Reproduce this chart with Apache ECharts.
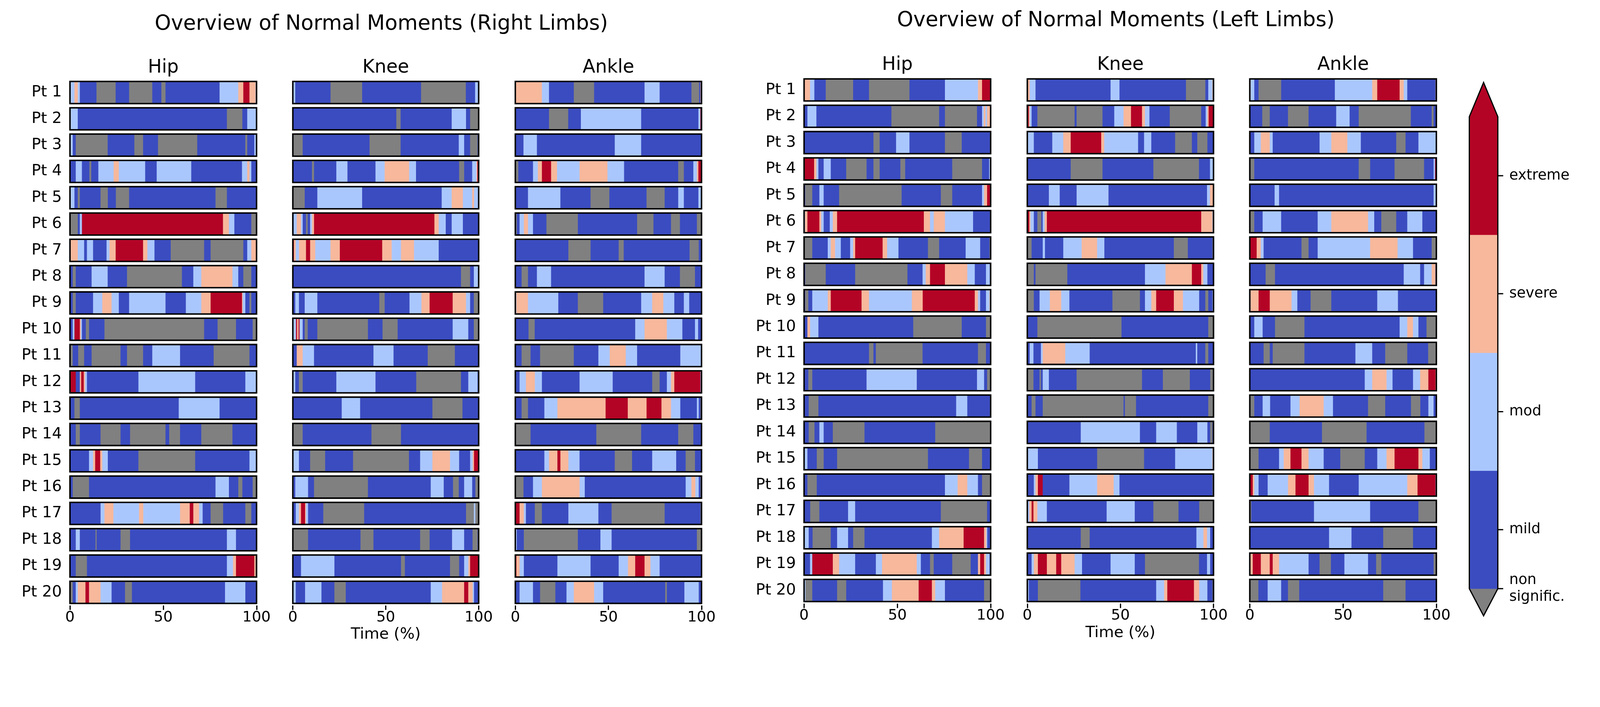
<!DOCTYPE html>
<html>
<head>
<meta charset="utf-8">
<script src="https://cdn.jsdelivr.net/npm/echarts@6/dist/echarts.min.js"></script>
<style>html,body{margin:0;padding:0;background:#fff;overflow:hidden;}#chart{width:100vw;height:100vh;}</style>
</head>
<body>
<div id="chart"></div>
<script>
// ---------------- DATA ----------------
// Category codes: 0 = non signific., 1 = mild, 2 = mod, 3 = severe, 4 = extreme
const catLabels = ['non\nsignific.', 'mild', 'mod', 'severe', 'extreme'];
const patients = ['Pt 1','Pt 2','Pt 3','Pt 4','Pt 5','Pt 6','Pt 7','Pt 8','Pt 9','Pt 10',
  'Pt 11','Pt 12','Pt 13','Pt 14','Pt 15','Pt 16','Pt 17','Pt 18','Pt 19','Pt 20'];
const jointNames = ['Hip', 'Knee', 'Ankle'];
const groupTitles = ['Overview of Normal Moments (Right Limbs)', 'Overview of Normal Moments (Left Limbs)'];
const xAxisName = 'Time (%)';
// each row: [category, end %, category, end %, ...] (segments start where the previous ends)
const rightHip = [
 [1,0.5, 2,2.5, 3,4.3, 2,5.4, 1,14.3, 0,24.6, 1,31.8, 0,44.2, 1,49.1, 0,51.3, 1,80.3, 2,90.3, 3,93, 4,96.3, 3,99.6, 2,100],
 [2,4.3, 1,84.2, 0,92.5, 1,95.1, 2,100],
 [2,1.6, 1,3.2, 0,20.3, 1,34.6, 0,39.3, 1,47.3, 0,68.3, 1,94.1, 0,95.1, 1,98.9, 2,100],
 [1,3.2, 2,6.5, 1,10.5, 0,11.5, 1,15.3, 2,23.5, 3,26.3, 2,40.4, 1,46.6, 2,65.1, 1,92.3, 2,95.1, 3,96.3, 2,97.3, 1,100],
 [2,2.5, 1,4.3, 0,5.4, 1,16.5, 0,20.4, 1,24.7, 0,31.8, 1,78.1, 0,84.2, 1,100],
 [0,4.3, 1,5.4, 2,6.5, 4,82.1, 3,85.3, 2,88.2, 1,97.3, 0,100],
 [3,4.3, 2,7.7, 1,9.2, 2,12.5, 1,19.7, 2,21.3, 3,24.6, 4,39.3, 3,41.6, 2,45.4, 1,54.1, 0,72, 1,75.5, 0,93, 1,95.1, 2,97.3, 3,100],
 [1,1.6, 0,3.2, 1,11.7, 2,20.3, 1,30.7, 0,60.1, 1,66.2, 2,70.5, 3,87.2, 2,90.3, 1,93, 0,97.3, 1,100],
 [1,1.6, 0,3.2, 1,12.5, 2,17.4, 3,22.4, 2,26.3, 1,31.8, 2,51.3, 1,62.2, 2,70.5, 3,75.5, 4,92.3, 3,92.7, 2,94.1, 1,96.3, 0,97.3, 1,100],
 [1,1.6, 2,2.5, 4,5.4, 3,5.9, 2,6.5, 1,8.6, 0,10.3, 1,18.6, 0,72, 1,79.2, 0,89.1, 1,98, 0,100],
 [0,1.6, 1,4.5, 0,7.7, 1,11.7, 0,27.2, 1,30.7, 0,39.3, 1,44.2, 2,59.1, 1,77.1, 0,96.3, 1,100],
 [3,0.4, 4,3.2, 1,5.4, 3,6.1, 4,7.5, 3,8.2, 2,9.2, 1,36.8, 2,67.2, 1,94.1, 2,100],
 [1,2.5, 0,5.4, 1,58.4, 2,80.3, 1,100],
 [1,3.2, 0,5.4, 1,16.5, 0,27.2, 1,32.3, 0,51.3, 1,53.3, 0,59.1, 1,70.5, 0,87.2, 1,100],
 [1,10.3, 2,12.5, 3,13.6, 4,16.3, 3,17.4, 2,20.4, 1,36.8, 0,67.2, 1,96.3, 2,100],
 [1,1.6, 0,10.3, 1,78.1, 2,85.3, 1,90.3, 0,92.5, 1,98, 0,100],
 [0,0.5, 1,16.5, 2,18.6, 3,23.4, 2,37.1, 3,39.4, 2,59.1, 3,64.3, 4,66.2, 3,69.3, 2,71.2, 1,75.5, 0,82.2, 1,94.1, 0,97.3, 1,100],
 [1,3.2, 2,5.4, 1,13.8, 0,14.4, 1,27.2, 0,32.3, 1,84.2, 2,89.1, 1,100],
 [1,3.2, 0,9.2, 1,84.2, 2,87.5, 3,89.1, 4,98.9, 3,99.6, 0,100],
 [1,0.5, 0,1.6, 1,3.2, 2,4.3, 3,8.4, 4,10.3, 3,16.5, 2,22.4, 1,29.6, 0,33.3, 1,83.2, 2,94.1, 1,100]
];
const rightKnee = [
 [2,1.4, 1,20.4, 0,37.4, 1,69.1, 0,93.2, 1,98.2, 2,100],
 [1,55.8, 0,58.1, 1,85.6, 2,93.3, 1,95.5, 0,100],
 [0,5.4, 1,41.4, 0,58.1, 1,89.4, 2,92.3, 1,95.5, 0,99.5, 1,100],
 [1,10.4, 0,11.5, 1,23.5, 2,29.5, 1,44.6, 2,49.5, 3,62.7, 2,66.4, 1,89.6, 0,92.3, 1,96.6, 2,98.9, 3,99.4, 4,100],
 [0,6.5, 1,13.3, 2,37.4, 1,80.2, 2,85.6, 3,91.6, 2,96.6, 3,97.6, 2,100],
 [1,0.5, 2,2.2, 3,4.5, 2,5.4, 1,7.2, 0,8.1, 1,9.4, 2,10.4, 3,11.5, 4,76.3, 3,78.6, 2,82.4, 1,85.6, 2,91.6, 1,100],
 [4,0.7, 3,1.7, 2,3.4, 3,7.2, 4,9.4, 3,12.2, 2,20.4, 3,25.4, 4,48.2, 3,53.3, 2,58.3, 3,65.3, 2,78.6, 1,100],
 [1,90.6, 0,95.5, 1,97.5, 2,100],
 [1,1.4, 2,3.4, 1,6.5, 2,13.3, 1,46.6, 0,49.5, 1,62.9, 2,69.3, 3,73.7, 4,86.1, 3,93.3, 2,95.5, 1,97.5, 0,100],
 [2,1.8, 4,2.4, 3,3.2, 4,3.7, 2,5.4, 1,6.5, 0,8.1, 1,13.3, 0,40.5, 1,48.4, 0,56.5, 1,86.1, 2,94.5, 1,97.5, 0,100],
 [1,2.2, 3,5.4, 2,11.5, 1,43.5, 2,54.3, 1,72.7, 0,87.3, 1,100],
 [2,1.4, 1,3.4, 0,5.4, 1,23.5, 2,44.6, 1,66.5, 0,90.6, 1,94.5, 2,99.5, 1,100],
 [1,26.4, 2,36.3, 1,75.2, 0,91.4, 1,100],
 [0,5.4, 1,42.4, 0,58.3, 1,100],
 [2,3.4, 1,9.4, 0,17.5, 1,32.5, 0,62.6, 1,68.6, 2,75.2, 3,84.7, 2,89.6, 1,95.5, 2,96.9, 3,97.6, 4,100],
 [2,0.5, 1,1.4, 2,8.3, 1,11.5, 0,40.5, 1,74.3, 2,81.3, 1,86.3, 0,89.4, 1,92.3, 2,96.6, 1,98.3, 0,100],
 [1,1.7, 2,3.4, 3,4.5, 4,6.7, 3,7.2, 2,8.3, 1,16.5, 0,38.5, 1,93.3, 0,97.5, 2,98.3, 0,100],
 [0,8.3, 1,36.5, 0,43.5, 1,68.6, 0,73.7, 1,85.8, 2,92.3, 1,96.8, 0,99.5, 1,100],
 [1,4.5, 2,22.5, 1,58.3, 0,60.4, 1,84.7, 0,89.6, 1,92.3, 2,94.6, 3,95.5, 4,100],
 [2,1.7, 1,6.7, 2,15.5, 1,22.5, 0,28.6, 1,74.3, 2,80.4, 3,92.3, 4,94.5, 3,96.9, 2,97.6, 1,100]
];
const rightAnkle = [
 [3,14.4, 2,18.2, 1,31.5, 0,42.4, 1,69.5, 2,77.6, 1,94.7, 0,98.8, 1,99.5, 3,100],
 [1,18.2, 0,28.5, 1,35.3, 2,67.7, 1,98.4, 2,99.5, 4,100],
 [1,4.5, 2,11.7, 1,53.5, 2,67.7, 1,100],
 [0,1.7, 1,9.6, 2,12.2, 3,14.4, 4,19.3, 3,22.5, 2,34.6, 3,49.6, 2,58.5, 1,87.6, 0,90.6, 1,95.7, 2,97.6, 3,98.4, 4,100],
 [1,6.9, 2,24.3, 1,40.5, 0,50.6, 1,70.6, 0,80.3, 1,87.6, 2,90.6, 1,98.4, 2,100],
 [0,0.9, 1,2.4, 2,4.7, 3,6.9, 2,9.6, 1,16.8, 0,33.7, 1,65.5, 0,74.3, 1,83.7, 0,88.5, 1,97.6, 0,100],
 [1,28.6, 0,40.5, 1,55.6, 0,58.3, 1,93.7, 0,98.6, 1,100],
 [1,3.5, 0,6.9, 1,11.7, 2,19.3, 1,69.5, 2,80.3, 1,88.5, 0,96.6, 1,100],
 [2,0.7, 3,6.9, 2,23.2, 1,33.7, 0,47.3, 1,67.7, 2,73.6, 3,79.6, 2,85.5, 1,90.6, 2,93.5, 1,100],
 [1,7.2, 0,10.5, 1,64.5, 2,69.5, 3,81.5, 2,89.8, 1,96.6, 2,98.3, 1,100],
 [1,3.5, 0,8.3, 1,13.4, 0,31.5, 1,44.7, 2,50.8, 3,59.4, 2,65.5, 1,88.7, 2,100],
 [1,2.4, 2,5.8, 3,10.6, 2,14.4, 1,34.6, 2,52.4, 1,73.6, 0,77.6, 1,81.5, 2,83.7, 3,85.5, 4,99.5, 2,100],
 [1,3.5, 0,6.9, 1,15.7, 2,22.7, 3,48.6, 4,60.5, 3,70.6, 4,78.6, 3,83.7, 2,88.7, 1,97.6, 2,98.6, 1,99.5, 0,100],
 [0,8.3, 1,43.6, 0,67.7, 1,87.6, 0,95.7, 1,100],
 [1,15.7, 2,18.2, 3,22.7, 4,24.3, 3,28.6, 2,34.6, 1,53.5, 0,62.8, 1,73.6, 2,86.5, 1,91.6, 0,96.6, 1,100],
 [0,4.5, 1,9.6, 2,14.4, 3,34.6, 2,37.4, 1,91.6, 2,94.7, 3,96.8, 2,98.6, 1,99.5, 0,100],
 [3,0.4, 4,2.4, 3,4.7, 2,5.8, 1,10.6, 0,14.4, 1,28.6, 2,44.7, 1,51.8, 0,80.3, 1,99.5, 0,100],
 [2,0.9, 1,4.7, 0,33.7, 1,45.8, 2,51.8, 1,97.6, 0,100],
 [4,0.7, 3,2.4, 2,4.7, 1,22.7, 2,40.5, 1,55.6, 2,60.6, 3,64.5, 4,69.5, 3,72.7, 2,77.6, 1,100],
 [1,2.4, 2,9.6, 1,13.4, 0,21.6, 1,27.6, 2,31.5, 3,42.4, 2,47.3, 1,80.6, 0,81.5, 1,90.9, 2,98.6, 1,100]
];
const leftHip = [
 [1,0.4, 3,3.3, 2,5.6, 1,11.7, 0,26.4, 1,34.9, 0,56.6, 1,75.6, 2,93.3, 3,95.5, 4,100],
 [1,1.9, 2,6.7, 1,46.9, 0,72.5, 1,75.6, 0,92.8, 1,95.5, 2,96.4, 3,97.3, 2,98.2, 3,100],
 [1,37.3, 0,40.6, 1,49.4, 2,56.6, 1,75.6, 0,84.6, 1,100],
 [4,5.5, 3,6.7, 2,7.8, 1,10.6, 2,14.4, 1,22.7, 0,33.6, 1,37.3, 0,40.6, 1,51.7, 0,54.3, 1,79.5, 0,95.5, 1,99.3, 2,100],
 [1,0.7, 0,4.5, 1,8.3, 2,10.6, 1,18.9, 0,52.4, 1,73.4, 0,79.5, 1,95.5, 2,96.6, 3,98.2, 4,100],
 [2,0.6, 3,1.9, 4,8.3, 3,9.3, 2,10.6, 1,13.9, 2,15.5, 3,17.8, 4,64.3, 3,67.6, 2,69.6, 3,75.6, 2,90.7, 1,100],
 [0,4.5, 1,12.8, 2,14.4, 3,16.7, 2,19.8, 1,24.8, 2,26.4, 3,27.5, 4,42.2, 3,44.6, 2,50.7, 1,66.5, 0,72.5, 1,86.7, 2,94.5, 1,99.5, 0,100],
 [1,0.7, 0,11.7, 1,27.5, 0,55.5, 1,63.6, 2,65.3, 3,67.6, 4,75.6, 3,87.6, 2,91.6, 1,97.6, 2,99.6, 1,100],
 [1,0.7, 0,2.4, 1,4.5, 2,12.8, 3,14.4, 4,30.9, 3,34.9, 2,57.9, 3,63.7, 4,91.6, 3,93.3, 2,94.5, 1,97.6, 2,99.5, 3,100],
 [1,1.9, 3,3.3, 2,7.8, 1,58.6, 0,84.6, 1,97.6, 0,100],
 [1,34.9, 0,37.3, 1,38.6, 0,63.6, 1,93.3, 0,97.6, 1,100],
 [1,2.4, 0,4.5, 1,33.6, 2,60.5, 1,92.8, 2,96.6, 1,98.2, 0,100],
 [1,2.6, 0,7.8, 1,81.6, 2,87.6, 1,100],
 [1,2.6, 0,5.7, 1,8.3, 2,10.6, 1,15.5, 0,32.5, 1,70.4, 0,100],
 [2,1.9, 1,6.9, 0,10.6, 1,17.8, 0,66.5, 1,88.5, 0,95.5, 1,100],
 [1,1.9, 0,6.9, 1,75.6, 2,82.4, 3,87.6, 2,93.3, 1,95.5, 0,100],
 [1,3.4, 0,8.3, 1,23.7, 2,27.5, 1,73.4, 0,98.2, 1,100],
 [2,2.6, 1,4.7, 0,14.4, 1,17.8, 2,23.7, 1,26.4, 0,32.5, 1,68.6, 2,72.5, 3,85.6, 4,96.6, 3,97.8, 2,98.3, 1,100],
 [1,3.3, 2,4.5, 4,15.5, 3,18.9, 2,27.5, 1,38.6, 2,41.9, 3,60.5, 2,62.7, 1,67.6, 0,69.6, 1,79.5, 0,89.4, 1,93.3, 3,94.5, 4,96.6, 3,97.6, 2,99.5, 1,100],
 [2,0.9, 0,4.5, 1,17.8, 0,22.7, 1,42.4, 2,47.2, 3,61.5, 4,68.6, 3,70.4, 2,75.6, 1,96.6, 0,100]
];
const leftKnee = [
 [1,0.4, 3,1.4, 2,4.5, 1,44.8, 2,49.6, 1,85.3, 0,95.7, 1,97.3, 2,99.5, 3,100],
 [4,0.9, 3,1.4, 2,2.4, 1,5.5, 0,25.5, 1,26.6, 0,40.5, 1,46.8, 2,51.8, 3,55.8, 4,61.7, 3,63.3, 2,65.7, 1,76.6, 0,93.5, 1,95.9, 2,96.8, 3,97.5, 4,100],
 [2,3.6, 1,13.5, 2,19.4, 3,23.4, 4,39.8, 3,41.4, 2,59.6, 1,62.8, 2,66.7, 1,79.5, 0,88.5, 1,91.4, 0,96.8, 1,100],
 [1,23.4, 0,40.5, 1,67.8, 0,92.3, 1,98.2, 2,100],
 [1,11.7, 2,17.5, 1,26.6, 2,43.7, 1,96.6, 2,98.2, 3,100],
 [4,1.2, 3,1.8, 2,3.6, 1,5.5, 0,7.6, 1,8.4, 2,9.4, 3,10.6, 4,93.5, 3,99.5, 2,100],
 [0,2.4, 1,8.4, 2,9.6, 1,19.4, 2,29.3, 3,37.6, 2,41.5, 1,78.8, 0,86.3, 1,99.5, 0,100],
 [0,3.6, 1,4.5, 0,21.6, 1,63.3, 2,74.3, 3,88.5, 4,93.5, 3,94.6, 2,96.8, 1,100],
 [0,3.6, 1,6.7, 2,12.2, 3,18.3, 2,22.7, 1,45.8, 0,60.6, 1,63.3, 2,66.7, 3,69.3, 4,78.8, 3,83.7, 2,92.4, 1,95.7, 0,97.3, 1,99.5, 2,100],
 [1,5.5, 0,50.7, 1,97.3, 0,100],
 [1,1.4, 2,3.4, 1,7.4, 2,8.4, 3,20.5, 2,33.6, 1,90.6, 2,91.4, 1,95.7, 0,97.3, 1,100],
 [0,3.4, 1,6.7, 0,7.4, 1,8.4, 2,11.7, 1,26.6, 0,61.7, 1,72.9, 0,87.4, 1,98.3, 0,100],
 [1,2.4, 0,4.5, 1,8.4, 0,51.8, 1,52.5, 0,58.5, 1,97.3, 0,100],
 [1,28.8, 2,60.6, 1,69.3, 2,80.4, 1,91.4, 2,96.8, 1,98.3, 0,99.5, 1,100],
 [2,5.8, 1,37.6, 0,62.8, 1,79.5, 2,99.5, 3,100],
 [1,3.6, 2,4.5, 3,5.8, 4,8.4, 1,22.7, 2,37.6, 3,46.5, 2,49.6, 1,99.5, 0,100],
 [2,1.2, 3,2.4, 4,3.4, 3,5.5, 2,10.6, 1,42.7, 2,57.8, 1,67.8, 0,81.3, 1,92.4, 0,100],
 [1,28.8, 0,33.6, 1,90.9, 2,94.7, 3,96.6, 2,98.3, 1,100],
 [1,2.4, 2,3.6, 3,5.8, 4,10.6, 3,15.6, 4,18.3, 3,25.5, 2,29.5, 1,44.8, 2,57.8, 1,63.3, 0,92.3, 1,96.6, 2,98.3, 1,100],
 [2,0.9, 1,5.8, 0,28.6, 1,69.3, 2,73.6, 3,75.3, 4,89.6, 3,92.4, 2,96.8, 1,99.5, 0,100]
];
const leftAnkle = [
 [3,0.5, 2,2.5, 1,4.8, 0,16.9, 1,45.7, 2,65.7, 3,68.4, 4,80.4, 3,82.6, 2,84.5, 1,99.6, 3,100],
 [1,6.8, 0,10.8, 1,20.6, 0,31.6, 1,46.4, 2,53.6, 1,58.5, 0,86.4, 1,97.6, 0,98.6, 1,100],
 [1,2.5, 2,6.0, 3,10.8, 2,12.4, 1,37.5, 2,43.8, 3,52.4, 2,59.6, 1,78.6, 0,83.6, 1,90.5, 2,100],
 [0,2.5, 1,58.5, 0,64.6, 1,77.7, 0,93.5, 1,98.6, 2,99.4, 4,100],
 [1,13.4, 2,15.8, 1,98.6, 2,100],
 [0,2.5, 1,7.0, 2,16.9, 1,36.5, 2,43.8, 3,63.5, 2,66.8, 1,70.6, 0,78.6, 1,84.5, 2,92.6, 1,100],
 [4,3.8, 3,6.0, 2,7.5, 1,27.8, 0,31.6, 1,36.5, 2,64.6, 3,79.3, 2,87.6, 1,97.6, 0,100],
 [1,8.6, 0,13.6, 1,82.6, 2,91.4, 1,93.5, 2,97.6, 3,99.6, 1,100],
 [2,0.5, 3,4.8, 4,10.8, 3,22.5, 2,25.6, 1,32.7, 0,43.8, 1,68.4, 2,79.5, 1,100],
 [1,2.5, 2,7.0, 1,13.6, 0,29.4, 1,80.4, 2,84.5, 3,87.6, 2,90.5, 1,94.8, 0,100],
 [1,7.5, 0,10.8, 1,12.4, 0,29.4, 1,56.7, 2,65.7, 1,72.7, 0,84.5, 1,95.7, 0,100],
 [1,61.7, 2,65.7, 3,73.4, 2,76.6, 1,87.6, 2,91.4, 3,95.8, 4,99.6, 3,100],
 [0,2.5, 1,7.0, 2,11.0, 1,21.9, 2,26.8, 3,39.7, 2,44.7, 1,63.5, 0,72.7, 1,86.5, 0,91.5, 1,95.8, 2,98.6, 1,100],
 [0,10.8, 1,38.8, 0,62.7, 1,93.7, 0,100],
 [0,4.8, 1,15.8, 2,18.3, 3,21.9, 4,27.8, 3,31.6, 2,39.7, 1,48.6, 0,61.7, 1,68.4, 2,73.4, 3,77.7, 4,90.5, 3,92.6, 2,96.6, 1,100],
 [4,1.7, 3,2.5, 2,4.8, 1,9.7, 2,20.6, 3,24.6, 4,31.6, 3,34.5, 2,42.6, 1,58.5, 2,84.5, 3,90.0, 4,99.6, 2,100],
 [0,0.9, 1,34.5, 2,64.6, 1,90.5, 0,100],
 [1,42.6, 2,54.6, 1,71.6, 0,87.6, 1,100],
 [3,1.7, 4,6.0, 3,10.8, 4,12.4, 3,15.8, 2,31.6, 1,37.5, 0,43.6, 1,50.8, 2,63.5, 1,67.8, 0,70.6, 1,98.6, 0,100],
 [0,4.7, 1,9.7, 2,16.9, 1,20.6, 0,26.6, 1,71.6, 0,83.6, 1,100]
];
// colorbar bands: [from, to, category]  (extension arrows at both ends)
const colorbarBands = [[-0.23,0,0],[0,1,1],[1,2,2],[2,3,3],[3,4,4],[4,4.29,4]];
// colorbar tick labels: [position, category]
const colorbarTicks = [[0,0],[0.5,1],[1.5,2],[2.5,3],[3.5,4]];

// ---------------- STYLE / LAYOUT (in reference pixels, scaled to the viewport) ----------------
const REF_W = 4322, REF_H = 1811;
const K = Math.min(window.innerWidth / REF_W, window.innerHeight / REF_H);
const S = v => v * K;
const catColors = ['#808080', '#3b4cc0', '#aac7fd', '#f7b89c', '#b40426'];
const FONT = 'DejaVu Sans';
const layout = [
  {data: rightHip,   left: 189,  width: 504, top: 214.5, height: 1422, ylabels: true,  name: false, titleY: 183},
  {data: rightKnee,  left: 791,  width: 502, top: 214.5, height: 1422, ylabels: false, name: true,  titleY: 183},
  {data: rightAnkle, left: 1392, width: 503, top: 214.5, height: 1422, ylabels: false, name: false, titleY: 183},
  {data: leftHip,    left: 2172, width: 504, top: 207.5, height: 1424, ylabels: true,  name: false, titleY: 176},
  {data: leftKnee,   left: 2775, width: 503, top: 207.5, height: 1424, ylabels: false, name: true,  titleY: 176},
  {data: leftAnkle,  left: 3376, width: 504, top: 207.5, height: 1424, ylabels: false, name: false, titleY: 176}
];
const cbGrid = {left: 3969, top: 223, width: 77, height: 1441.4};
const groupTitlePos = [[1030, 66], [3014, 56]];

function toSegments(rows) {
  const out = [];
  rows.forEach((r, ri) => {
    let s = 0;
    for (let k = 0; k < r.length; k += 2) {
      out.push([s, r[k + 1], ri, r[k]]);
      s = r[k + 1];
    }
  });
  return out;
}
const fontStr = px => S(px) + 'px "' + FONT + '"';

const grids = [], xAxes = [], yAxes = [], series = [], graphics = [];
layout.forEach((p, i) => {
  grids.push({left: S(p.left), top: S(p.top), width: S(p.width), height: S(p.height), containLabel: false});
  xAxes.push({
    gridIndex: i, type: 'value', min: 0, max: 100, interval: 50,
    axisLine: {show: false},
    axisTick: {show: true, length: S(12), lineStyle: {color: '#000', width: S(3.3)}},
    axisLabel: {color: '#000', fontSize: S(40), fontFamily: FONT, margin: S(13), showMinLabel: true, showMaxLabel: true},
    splitLine: {show: false},
    name: p.name ? xAxisName : '', nameLocation: 'middle', nameGap: S(50),
    nameTextStyle: {color: '#000', fontSize: S(42), fontFamily: FONT, verticalAlign: 'top'}
  });
  yAxes.push({
    gridIndex: i, type: 'category', data: patients, inverse: true,
    axisLine: {show: false}, axisTick: {show: false}, splitLine: {show: false},
    axisLabel: {show: p.ylabels, color: '#000', fontSize: S(42), fontFamily: FONT, margin: S(22)}
  });
  series.push({
    type: 'custom', xAxisIndex: i, yAxisIndex: i,
    data: toSegments(p.data),
    encode: {x: [0, 1], y: 2},
    renderItem: function (params, api) {
      const a = api.coord([api.value(0), api.value(2)]);
      const b = api.coord([api.value(1), api.value(2)]);
      const h = api.size([0, 1])[1] * 0.84;
      const c = catColors[api.value(3)];
      return {type: 'rect', shape: {x: a[0], y: a[1] - h / 2, width: b[0] - a[0], height: h},
              style: {fill: c, stroke: c, lineWidth: 1}};
    },
    z: 2, silent: true
  });
  series.push({
    type: 'custom', xAxisIndex: i, yAxisIndex: i,
    data: patients.map((_, ri) => [0, 100, ri]),
    encode: {x: [0, 1], y: 2},
    renderItem: function (params, api) {
      const a = api.coord([api.value(0), api.value(2)]);
      const b = api.coord([api.value(1), api.value(2)]);
      const h = api.size([0, 1])[1] * 0.84;
      return {type: 'rect', shape: {x: a[0], y: a[1] - h / 2, width: b[0] - a[0], height: h},
              style: {fill: null, stroke: '#000', lineWidth: S(4)}};
    },
    z: 3, silent: true
  });
  graphics.push({type: 'text', x: S(p.left + p.width / 2), y: S(p.titleY),
    style: {text: jointNames[i % 3], font: fontStr(50), fill: '#000', textAlign: 'center', textVerticalAlign: 'middle'}});
});
// group titles
groupTitles.forEach((t, gi) => {
  graphics.push({type: 'text', x: S(groupTitlePos[gi][0]), y: S(groupTitlePos[gi][1]),
    style: {text: t, font: fontStr(56), fill: '#000', textAlign: 'center', textVerticalAlign: 'middle'}});
});

// colorbar
const ci = grids.length;
grids.push({left: S(cbGrid.left), top: S(cbGrid.top), width: S(cbGrid.width), height: S(cbGrid.height)});
xAxes.push({gridIndex: ci, type: 'value', min: 0, max: 1, show: false});
yAxes.push({gridIndex: ci, type: 'value', min: -0.23, max: 4.29, show: false});
series.push({
  type: 'custom', xAxisIndex: ci, yAxisIndex: ci,
  data: colorbarBands,
  encode: {y: [0, 1]},
  renderItem: function (params, api) {
    const y0 = api.value(0), y1 = api.value(1), c = catColors[api.value(2)];
    const n = colorbarBands.length;
    if (params.dataIndex === 0) {
      return {type: 'polygon', shape: {points: [api.coord([0, y1]), api.coord([1, y1]), api.coord([0.5, y0])]}, style: {fill: c, stroke: c, lineWidth: 1}};
    }
    if (params.dataIndex === n - 1) {
      return {type: 'polygon', shape: {points: [api.coord([0, y0]), api.coord([1, y0]), api.coord([0.5, y1])]}, style: {fill: c, stroke: c, lineWidth: 1}};
    }
    const a = api.coord([0, y1]), b = api.coord([1, y0]);
    return {type: 'rect', shape: {x: a[0], y: a[1], width: b[0] - a[0], height: b[1] - a[1]}, style: {fill: c, stroke: c, lineWidth: 1}};
  },
  z: 2, silent: true
});
series.push({
  type: 'custom', xAxisIndex: ci, yAxisIndex: ci,
  data: [[-0.23, 4.29]],
  encode: {y: [0, 1]},
  renderItem: function (params, api) {
    const lo = api.value(0), hi = api.value(1);
    const pts = [[0.5, lo], [0, 0], [0, 4], [0.5, hi], [1, 4], [1, 0]].map(q => api.coord(q));
    return {type: 'polygon', shape: {points: pts}, style: {fill: null, stroke: '#000', lineWidth: S(3.3)}};
  },
  z: 3, silent: true
});
series.push({
  type: 'custom', xAxisIndex: ci, yAxisIndex: ci,
  data: colorbarTicks,
  encode: {y: 0},
  renderItem: function (params, api) {
    const p = api.coord([1, api.value(0)]);
    const txt = catLabels[api.value(1)];
    return {type: 'group', children: [
      {type: 'line', shape: {x1: p[0], y1: p[1], x2: p[0] + S(14.6), y2: p[1]}, style: {stroke: '#000', lineWidth: S(3.3)}},
      {type: 'text', x: p[0] + S(31), y: p[1], style: {text: txt, font: fontStr(39), fill: '#000',
        textAlign: 'left', textVerticalAlign: 'middle', lineHeight: S(46)}}
    ]};
  },
  z: 4, silent: true
});

const chart = echarts.init(document.getElementById('chart'), null, {renderer: 'canvas'});
chart.setOption({
  animation: false,
  backgroundColor: '#fff',
  textStyle: {fontFamily: FONT},
  grid: grids, xAxis: xAxes, yAxis: yAxes, series: series,
  graphic: graphics
});
</script>
</body>
</html>
